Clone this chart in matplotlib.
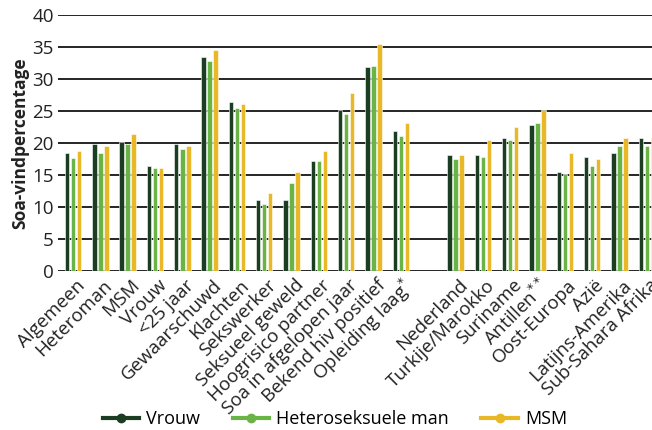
import matplotlib
matplotlib.use('Agg')
import matplotlib.pyplot as plt
import matplotlib.transforms as mtransforms
import numpy as np

plt.rcParams['font.family'] = ['Open Sans', 'DejaVu Sans']

categories = ['Algemeen', 'Heteroman', 'MSM', 'Vrouw', '<25 jaar', 'Gewaarschuwd',
              'Klachten', 'Sekswerker', 'Seksueel geweld', 'Hoogrisico partner',
              'Soa in afgelopen jaar', 'Bekend hiv positief', 'Opleiding laag$^{*}$',
              'Nederland', 'Turkije/Marokko', 'Suriname', 'Antillen$^{**}$',
              'Oost-Europa', 'Azië', 'Latijns-Amerika', 'Sub-Sahara Afrika']
positions = list(range(13)) + list(range(14, 22))

vrouw = [18.4, 19.8, 20.1, 16.4, 19.8, 33.4, 26.4, 11.1, 11.1, 17.1, 25.1, 31.8, 21.8,
         18.1, 18.1, 20.8, 22.8, 15.4, 17.8, 18.4, 20.8]
heteroman = [17.7, 18.4, 19.8, 16.1, 19.1, 32.8, 25.5, 10.4, 13.7, 17.1, 24.5, 32.1, 21.1,
             17.4, 17.8, 20.5, 23.1, 15.1, 16.4, 19.5, 19.5]
msm = [18.7, 19.5, 21.4, 16.1, 19.5, 34.5, 26.1, 12.1, 15.4, 18.7, 27.8, 35.5, 23.1,
       18.1, 20.5, 22.5, 25.1, 18.4, 17.4, 20.8, 20.8]

series = [('Vrouw', vrouw, '#1b3d22'),
          ('Heteroseksuele man', heteroman, '#6ab446'),
          ('MSM', msm, '#e8b828')]

fig = plt.figure(figsize=(6.52, 4.30), dpi=100)
ax = fig.add_axes([58 / 652, 1 - 270.7 / 430, 1 - 58 / 652, 255.7 / 430])

x = np.array(positions, dtype=float)
pitch = 0.22
width = 0.16
for i, (name, vals, col) in enumerate(series):
    ax.bar(x + (i - 1) * pitch, vals, width=width, color=col, edgecolor='white',
           linewidth=0.4, zorder=3)

ax.set_ylim(0, 40)
ax.set_xlim(-0.55, 21.19)
ax.set_yticks(range(0, 41, 5))
ax.yaxis.grid(True, color='black', linewidth=1.2, zorder=0)
ax.set_axisbelow(True)
for s in ax.spines.values():
    s.set_visible(False)
ax.tick_params(axis='both', length=0, labelsize=13.5, colors='#222222')
ax.tick_params(axis='y', pad=3)
ax.set_ylabel('Soa-vindpercentage', fontsize=12.5, fontweight='bold', color='#222222',
              labelpad=2)

ax.set_xticks(x)
ax.set_xticklabels(categories, rotation=45, ha='right', va='center',
                   rotation_mode='anchor', fontsize=13.5, color='#222222')
offset = mtransforms.ScaledTranslation(9 / 100, -7 / 100, fig.dpi_scale_trans)
for lbl in ax.get_xticklabels():
    lbl.set_transform(lbl.get_transform() + offset)

handles = [plt.Line2D([], [], color=col, linewidth=3, marker='o', markersize=6)
           for _, _, col in series]
fig.legend(handles, [s[0] for s in series], loc='center', ncol=3,
           bbox_to_anchor=(335 / 652, 11 / 430), frameon=False, fontsize=13,
           handlelength=2.0, handletextpad=0.4, columnspacing=1.8,
           borderpad=0.2)

fig.savefig('out.png', dpi=100)
